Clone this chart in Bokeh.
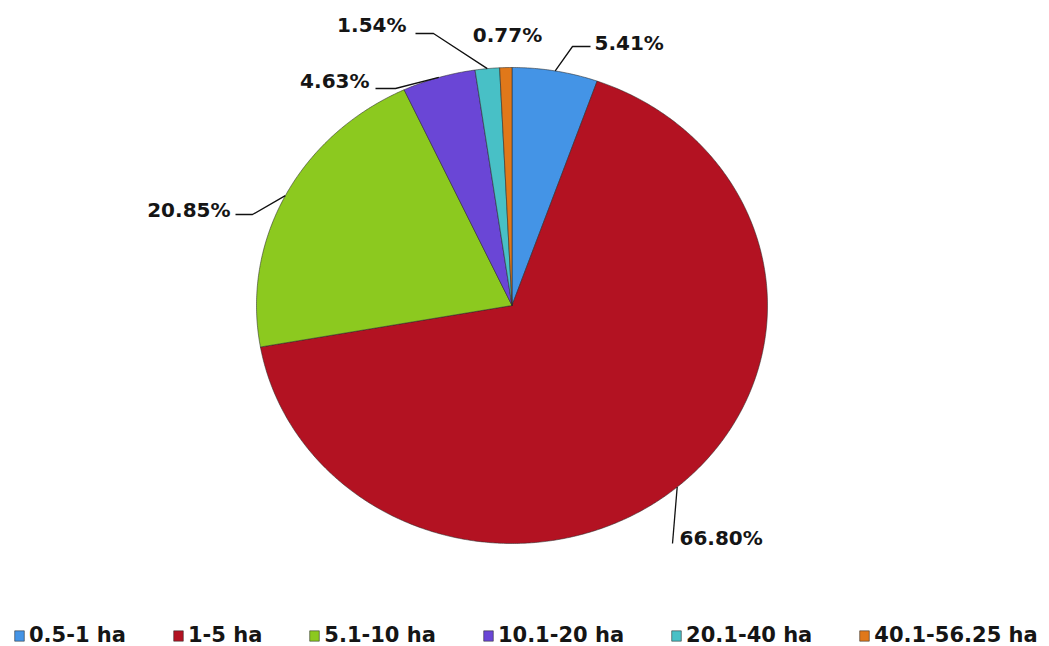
import numpy as np
from bokeh.plotting import figure
from bokeh.models import Range1d, Legend, LegendItem, ColumnDataSource
from bokeh.embed import file_html
from bokeh.resources import INLINE
from bokeh.core.properties import value

# ---- data ----
categories = ["0.5-1 ha", "1-5 ha", "5.1-10 ha", "10.1-20 ha", "20.1-40 ha", "40.1-56.25 ha"]
shares = [5.41, 66.80, 20.85, 4.63, 1.54, 0.77]
colors = ["#4494E6", "#B31222", "#8CC91F", "#6A46D6", "#48C0C6", "#E0781A"]

# ---- layout (page pixels) ----
W, H = 1049, 646
CX, CY = 511.5, 305.0
RX, RY = 255.5, 238.0
FONT = "DejaVu Sans"

def dx(px):
    return px - CX

def dy(py):
    return CY - py

p = figure(width=W, height=H, x_range=Range1d(dx(0), dx(W)),
           y_range=Range1d(dy(H), dy(0)), output_backend="svg",
           toolbar_location=None, min_border=0)
p.axis.visible = False
p.grid.visible = False
p.outline_line_color = None
p.background_fill_color = "white"

total = sum(shares)
cum = np.concatenate([[0.0], np.cumsum(shares)]) / total * 2 * np.pi
xs, ys = [], []
for a0, a1 in zip(cum[:-1], cum[1:]):
    t = np.linspace(a0, a1, max(6, int((a1 - a0) * 120)))
    xs.append(np.concatenate([[0.0], RX * np.sin(t)]).tolist())
    ys.append(np.concatenate([[0.0], RY * np.cos(t)]).tolist())
src = ColumnDataSource(dict(xs=xs, ys=ys, color=colors, cat=categories))
r = p.patches("xs", "ys", fill_color="color", line_color="#2a2a2a",
              line_alpha=0.55, line_width=1, source=src)

# ---- labels and leader lines ----
label_pos = [(594, 42, "left"), (679, 537, "left"), (230, 209, "right"),
             (369, 80, "right"), (406, 24, "right"), (507, 34, "center")]
leader_mid = [(572, 46), None, (252, 214), (395, 88), (433, 33), None]
leader_end = [(590, 46), (672, 543), (235, 214), (375, 88), (415, 33), None]

lx, ly, lt, la = [], [], [], []
mx, my = [], []
for i, s in enumerate(shares):
    x, y, al = label_pos[i]
    lx.append(dx(x)); ly.append(dy(y)); lt.append(f"{s:.2f}%"); la.append(al)
    if leader_end[i] is None:
        continue
    m = (cum[i] + cum[i + 1]) / 2
    px, py = [RX * np.sin(m)], [RY * np.cos(m)]
    if leader_mid[i] is not None:
        px.append(dx(leader_mid[i][0])); py.append(dy(leader_mid[i][1]))
    px.append(dx(leader_end[i][0])); py.append(dy(leader_end[i][1]))
    mx.append(px); my.append(py)

p.multi_line(mx, my, line_color="#111111", line_width=1.3)
p.text(x=lx, y=ly, text=lt, text_align=la, text_baseline="middle",
       text_font=value(FONT), text_font_style="bold",
       text_font_size="20px", text_color="#151515")

items = [LegendItem(label=c, renderers=[r], index=i) for i, c in enumerate(categories)]
legend = Legend(items=items, orientation="horizontal", location=(13, -1),
                glyph_width=12, glyph_height=13, label_standoff=4, spacing=46,
                padding=0, margin=0, border_line_color=None,
                background_fill_alpha=0, label_text_font=FONT,
                label_text_font_style="bold", label_text_font_size="21px",
                label_text_color="#151515")
p.add_layout(legend)

open("out.html", "w").write(file_html(p, INLINE))
